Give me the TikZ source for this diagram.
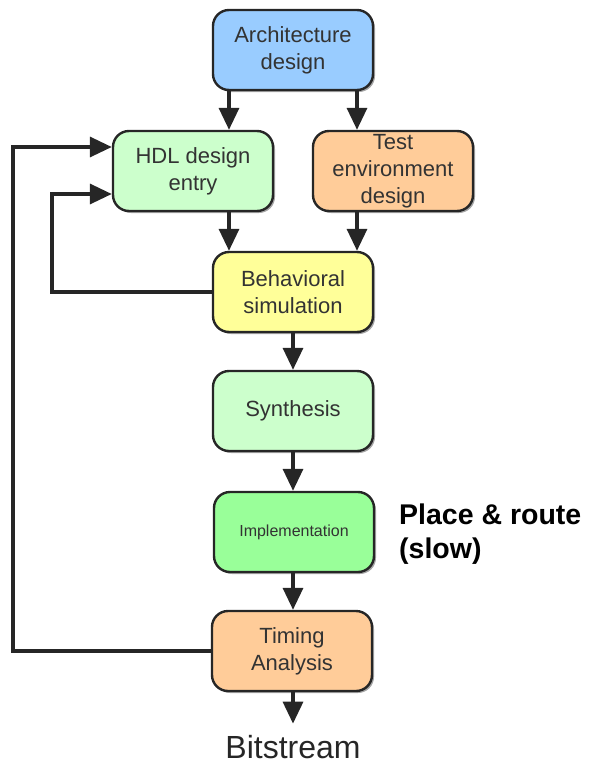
\documentclass[tikz,border=0pt]{standalone}
\usepackage{fontspec}
\setmainfont{Liberation Sans}
\usetikzlibrary{arrows.meta,shadows}
\definecolor{archc}{HTML}{99CCFF}
\definecolor{hdlc}{HTML}{CCFFCC}
\definecolor{testc}{HTML}{FFCC99}
\definecolor{behc}{HTML}{FFFF99}
\definecolor{sync}{HTML}{CCFFCC}
\definecolor{impc}{HTML}{99FF99}
\definecolor{timc}{HTML}{FFCC99}
\begin{document}
\begin{tikzpicture}[x=1pt,y=1pt,
 box/.style={draw=black!85, line width=2.4pt, rounded corners=16pt, minimum width=160pt, minimum height=80pt, inner sep=0pt, align=center, font=\fontsize{22}{27}\selectfont, text=black!80, drop shadow={shadow xshift=2pt, shadow yshift=-2pt, fill=black!35, opacity=1}},
 conn/.style={line width=3.4pt, draw=black!85, -{Triangle[length=22pt,width=20pt]}}]
\useasboundingbox (0,0) rectangle (589,-766);
\node[box, fill=archc] (arch) at (293,-50) {Architecture\\design};
\node[box, fill=hdlc] (hdl) at (193,-171) {HDL design\\entry};
\node[box, fill=testc] (test) at (393,-171) {Test\\environment\\design};
\node[box, fill=behc] (beh) at (293,-292) {Behavioral\\simulation};
\node[box, fill=sync] (syn) at (293,-411) {Synthesis};
\node[box, fill=impc, font=\fontsize{16}{19}\selectfont] (imp) at (294,-532) {Implementation};
\node[box, fill=timc] (tim) at (292,-651) {Timing\\Analysis};
\node[anchor=base, inner sep=0pt, inner ysep=11pt, font=\fontsize{32}{38}\selectfont, text=black!85] (bits) at (293,-758) {Bitstream};
\node[anchor=west, inner sep=0pt, align=left, font=\bfseries\fontsize{28.5}{34}\selectfont] (pr) at (399,-534.5) {Place \& route\\(slow)};
\coordinate (xl) at (229,0);
\coordinate (xr) at (357,0);
\coordinate (fb1) at (52,-194);
\coordinate (fb2) at (13,-147);
\draw[conn] (arch.south -| xl) -- (hdl.north -| xl);
\draw[conn] (arch.south -| xr) -- (test.north -| xr);
\draw[conn] (hdl.south -| xl) -- (beh.north -| xl);
\draw[conn] (test.south -| xr) -- (beh.north -| xr);
\draw[conn] (beh.south) -- (syn.north -| beh.south);
\draw[conn] (syn.south) -- (imp.north -| syn.south);
\draw[conn] (imp.south -| syn.south) -- (tim.north -| syn.south);
\draw[conn] (tim.south -| syn.south) -- (bits.north -| syn.south);
\draw[conn] (beh.west) -| (fb1) -- (hdl.west |- fb1);
\draw[conn] (tim.west) -| (fb2) -- (hdl.west |- fb2);
\end{tikzpicture}
\end{document}
